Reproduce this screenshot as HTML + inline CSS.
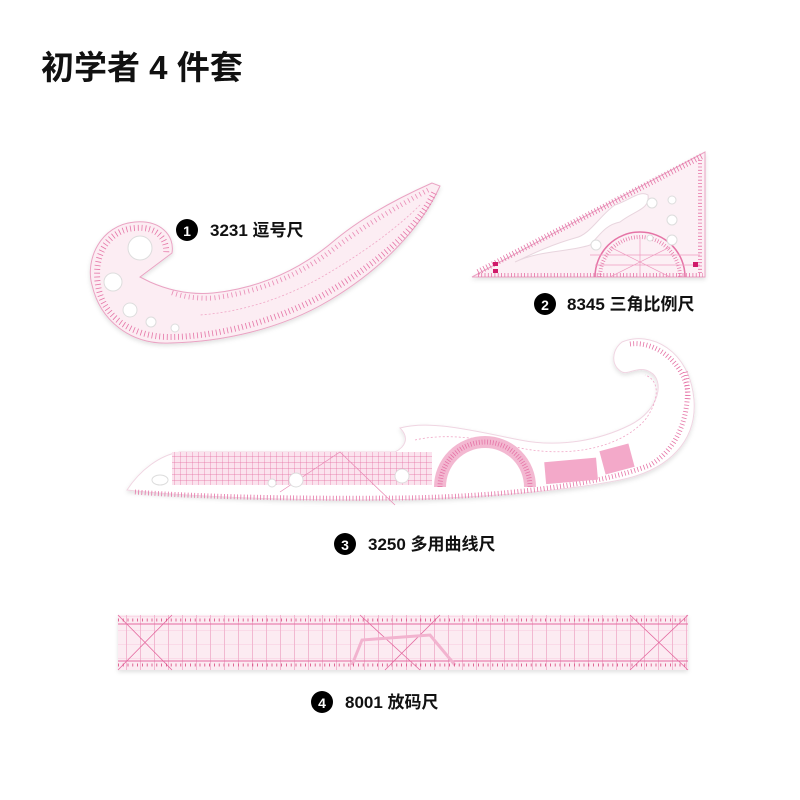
<!DOCTYPE html>
<html><head><meta charset="utf-8"><style>
body{margin:0;background:#fff;width:800px;height:800px;overflow:hidden}
svg{display:block}
.t{font-family:"Liberation Sans","Noto Sans CJK SC",sans-serif;}
</style></head><body>
<svg width="800" height="800" viewBox="0 0 800 800" xmlns="http://www.w3.org/2000/svg">
<defs>
<pattern id="g" width="6" height="6" patternUnits="userSpaceOnUse">
<path d="M0 0H6M0 0V6" stroke="#e46aa0" stroke-width="0.7" fill="none"/>
</pattern>
<pattern id="g2" width="14" height="14" patternUnits="userSpaceOnUse">
<path d="M0 0V14" stroke="#e46aa0" stroke-width="0.8"/><path d="M0 0H14" stroke="#f3b3cf" stroke-width="0.6"/>
</pattern>
<filter id="sh" x="-10%" y="-10%" width="120%" height="130%"><feDropShadow dx="0" dy="2" stdDeviation="2" flood-color="#000" flood-opacity="0.12"/></filter>
</defs>

<text x="41" y="79" class="t" font-size="33" font-weight="bold" fill="#111">初学者 4 件套</text>

<!-- Ruler 1 comma -->
<path filter="url(#sh)" d="M432,183 C405,195 365,215 335,240 C300,270 260,288 213,293 C190,295 168,290 150,282 L140,277 L172,253 C175,235 160,220 135,222 C100,225 85,260 92,285 C100,320 130,345 170,343 C220,342 280,330 330,300 C380,270 420,230 440,186 Z" fill="#fcedf3" stroke="#eaa3c3" stroke-width="1"/>
<path d="M434,193 C415,232 375,265 325,294 C275,322 215,337 170,337 C130,337 102,315 98,285 C93,255 108,230 135,228 C158,226 168,240 166,255" fill="none" stroke="#e574a6" stroke-width="6" stroke-dasharray="0.8 3"/>
<path d="M428,190 C400,205 365,225 335,248 C300,275 260,292 213,298 C195,299 180,296 170,292" fill="none" stroke="#e98ab5" stroke-width="5" stroke-dasharray="0.8 3.5"/>
<path d="M420,205 C395,230 360,255 320,278 C280,300 240,312 200,315" fill="none" stroke="#f0a6c6" stroke-width="0.8" stroke-dasharray="2 2"/>
<circle cx="140" cy="248" r="12" fill="#fff" stroke="#ddd"/>
<circle cx="113" cy="282" r="9" fill="#fff" stroke="#ddd"/>
<circle cx="130" cy="310" r="7" fill="#fff" stroke="#ddd"/>
<circle cx="151" cy="322" r="5" fill="#fff" stroke="#ddd"/>
<circle cx="175" cy="328" r="4" fill="#fff" stroke="#ddd"/>

<!-- Ruler 2 triangle -->
<path filter="url(#sh)" d="M472,277 L705,152 L705,277 Z" fill="#fcf0f5" stroke="#eaa3c3"/>
<path d="M478,272 L702,156" stroke="#e574a6" stroke-width="6" stroke-dasharray="0.8 2.5"/>
<path d="M478,275 H703" stroke="#e574a6" stroke-width="4" stroke-dasharray="0.8 2.5"/>
<path d="M700,160 V275" stroke="#e574a6" stroke-width="4" stroke-dasharray="0.8 2.5"/>
<path d="M595,277 A45,45 0 0 1 685,277" fill="none" stroke="#e574a6" stroke-width="1.5"/>
<path d="M600,277 A40,40 0 0 1 680,277" fill="none" stroke="#e574a6" stroke-width="4" stroke-dasharray="0.7 2"/>
<path d="M610,247 L670,277 M670,247 L610,277 M640,237 V277 M590,255 H700 M595,265 H700" stroke="#ee9cc0" stroke-width="0.7"/>
<path d="M515,262 C540,250 570,252 590,245 C600,235 605,225 620,222 C635,210 650,210 648,195 C640,190 630,200 615,205 C600,215 590,235 575,238 C550,245 530,255 515,262 Z" fill="#fff" stroke="#e8d5de"/>
<circle cx="652" cy="203" r="5" fill="#fff" stroke="#ddd"/><circle cx="672" cy="200" r="4" fill="#fff" stroke="#ddd"/>
<circle cx="672" cy="220" r="5" fill="#fff" stroke="#ddd"/><circle cx="672" cy="240" r="5" fill="#fff" stroke="#ddd"/>
<circle cx="650" cy="238" r="3" fill="#fff" stroke="#ddd"/><circle cx="596" cy="245" r="5" fill="#fff" stroke="#ddd"/>
<rect x="493" y="262" width="5" height="4" fill="#d01a6a"/>
<rect x="493" y="269" width="5" height="4" fill="#d01a6a"/>
<rect x="693" y="262" width="5" height="5" fill="#d01a6a"/>

<!-- Ruler 3 -->
<path filter="url(#sh)" d="M127,490 C140,470 160,455 180,452 L395,452 C405,447 410,438 400,428 C430,420 470,430 520,440 C560,448 600,440 630,425 C660,410 665,380 650,372 C640,365 628,375 622,372 C610,365 612,350 622,342 C650,330 690,350 694,400 C697,440 670,470 620,480 C560,492 460,500 360,500 C260,500 170,495 127,490 Z" fill="#fff" stroke="#f0d5e2"/>
<rect x="172" y="452" width="260" height="33" fill="#fbe3ee"/>
<rect x="172" y="452" width="260" height="33" fill="url(#g)"/>
<path d="M135,492 C200,497 300,499 400,498 C500,497 600,485 650,465 C685,445 692,400 685,370" fill="none" stroke="#e574a6" stroke-width="5" stroke-dasharray="0.8 2.5"/>
<path d="M630,344 C660,340 690,370 688,400" fill="none" stroke="#e574a6" stroke-width="5" stroke-dasharray="0.8 2.5"/>
<path d="M415,440 C450,432 490,440 520,448 C570,458 620,448 645,420 C660,400 660,380 645,375" fill="none" stroke="#f0a6c6" stroke-width="0.8" stroke-dasharray="2 2"/>
<path d="M440,487 A45,45 0 0 1 530,487" fill="none" stroke="#f3b8d1" stroke-width="12"/>
<path d="M440,487 A45,45 0 0 1 530,487" fill="none" stroke="#e574a6" stroke-width="5" stroke-dasharray="0.8 2"/>
<path d="M448,487 A37,37 0 0 1 522,487 Z" fill="#fff"/>
<rect x="545" y="460" width="52" height="22" fill="#f3a9c9" transform="rotate(-5 570 470)"/>
<rect x="602" y="447" width="30" height="24" fill="#f3a9c9" transform="rotate(-15 617 459)"/>
<path d="M280,492 L340,452 L395,505" stroke="#e98ab5" stroke-width="0.7" fill="none"/>
<ellipse cx="160" cy="480" rx="8" ry="5" fill="#fff" stroke="#ddd"/>
<circle cx="272" cy="483" r="4" fill="#fff" stroke="#ddd"/><circle cx="296" cy="480" r="7" fill="#fff" stroke="#ddd"/><circle cx="402" cy="476" r="7" fill="#fff" stroke="#ddd"/>

<!-- Ruler 4 -->
<rect x="118" y="615" width="570" height="55" fill="#fcebf2" filter="url(#sh)"/>
<rect x="118" y="615" width="570" height="55" fill="url(#g2)"/>
<path d="M118,624 H688 M118,661 H688" stroke="#e46aa0" stroke-width="1"/>
<path d="M118,615 L172,670 M172,615 L118,670 M630,615 L688,670 M688,615 L630,670 M360,615 L420,670 M440,615 L385,670" stroke="#e46aa0" stroke-width="0.8"/>
<path d="M352,665 L362,640 L430,635 L455,665" fill="none" stroke="#f2b3cf" stroke-width="3"/>
<path d="M118,620 H688" stroke="#d9487f" stroke-width="3" stroke-dasharray="0.8 4"/>
<path d="M118,665 H688" stroke="#d9487f" stroke-width="3" stroke-dasharray="0.8 4"/>

<!-- labels -->
<g class="t" font-size="17" font-weight="bold" fill="#111">
<circle cx="187" cy="230" r="11" fill="#000"/><text x="187" y="236" fill="#fff" font-size="14" text-anchor="middle">1</text>
<text x="210" y="236">3231 逗号尺</text>
<circle cx="545" cy="304" r="11" fill="#000"/><text x="545" y="310" fill="#fff" font-size="14" text-anchor="middle">2</text>
<text x="567" y="310">8345 三角比例尺</text>
<circle cx="345" cy="544" r="11" fill="#000"/><text x="345" y="550" fill="#fff" font-size="14" text-anchor="middle">3</text>
<text x="368" y="550">3250 多用曲线尺</text>
<circle cx="322" cy="702" r="11" fill="#000"/><text x="322" y="708" fill="#fff" font-size="14" text-anchor="middle">4</text>
<text x="345" y="708">8001 放码尺</text>
</g>
</svg>
</body></html>
